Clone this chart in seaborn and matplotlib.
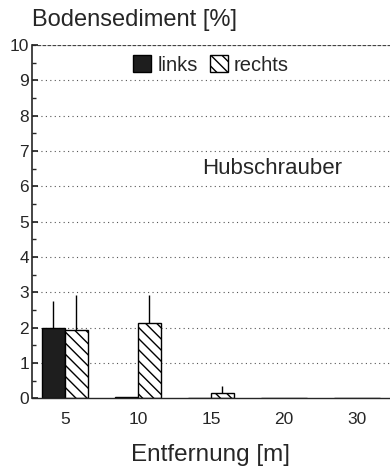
import matplotlib
matplotlib.use("Agg")
import matplotlib.pyplot as plt
import seaborn as sns
import pandas as pd
import numpy as np
from matplotlib.patches import Patch

categories = ["5", "10", "15", "20", "30"]
links = [2.0, 0.03, 0.0, 0.0, 0.0]
links_err = [0.75, 0.0, 0.0, 0.0, 0.0]
rechts = [1.93, 2.12, 0.15, 0.0, 0.0]
rechts_err = [0.99, 0.81, 0.19, 0.0, 0.0]
yticks = list(range(0, 11))

sns.set_theme(style="ticks")
plt.rcParams['font.family'] = ['Liberation Sans', 'DejaVu Sans']
plt.rcParams['hatch.linewidth'] = 1.0

df = pd.DataFrame({
    "Entfernung": categories * 2,
    "Wert": links + rechts,
    "Seite": ["links"] * 5 + ["rechts"] * 5,
})

fig = plt.figure(figsize=(3.9, 4.69), dpi=100)
ax = fig.add_axes([0.082, 0.151, 0.918, 0.753])

sns.barplot(data=df, x="Entfernung", y="Wert", hue="Seite", order=categories,
            hue_order=["links", "rechts"], palette=["#1e1e1e", "white"],
            width=0.63, errorbar=None, edgecolor="black", linewidth=1.0,
            legend=False, ax=ax)

n = len(categories)
bars = ax.patches
for i, p in enumerate(bars[:2 * n]):
    if i >= n:
        p.set_hatch("\\\\\\")
    errs = links_err if i < n else rechts_err
    vals = links if i < n else rechts
    e = errs[i % n]
    if e > 0:
        xc = p.get_x() + p.get_width() / 2
        ax.errorbar([xc], [vals[i % n]], yerr=[[0], [e]], fmt="none",
                    ecolor="black", elinewidth=1.0, capsize=0)

ax.set_ylim(0, 10)
ax.set_xlim(-0.45, 4.45)
ax.set_yticks(yticks)
ax.set_yticks(np.arange(0.5, 10, 1), minor=True)
ax.tick_params(axis="y", which="major", direction="in", length=4, labelsize=12.5, pad=2)
ax.tick_params(axis="y", which="minor", direction="in", length=3)
ax.tick_params(axis="x", length=0, labelsize=12.5, pad=10)
for y in range(1, 10):
    ax.axhline(y, color="#555555", linestyle=(0, (1, 3)), linewidth=0.8, zorder=0)
ax.axhline(10, color="#444444", linestyle=(0, (3, 1)), linewidth=0.9, zorder=0)

for s in ["right", "top"]:
    ax.spines[s].set_visible(False)
ax.spines["left"].set_linewidth(1.2)
ax.spines["bottom"].set_linewidth(1.0)

ax.set_xlabel("Entfernung [m]", fontsize=17.5, labelpad=12)
ax.set_ylabel("")
fig.text(0.082, 0.981, "Bodensediment [%]", fontsize=17, ha="left", va="top")
ax.text(2.84, 6.5, "Hubschrauber", fontsize=16, ha="center", va="center")

handles = [Patch(facecolor="#1e1e1e", edgecolor="black", label="links"),
           Patch(facecolor="white", edgecolor="black", hatch="\\\\\\", label="rechts")]
ax.legend(handles=handles, loc="upper center", bbox_to_anchor=(0.5, 1.005), ncol=2,
          frameon=False, fontsize=14.5, handlelength=0.9, handleheight=0.9,
          handletextpad=0.3, columnspacing=0.6, borderaxespad=0.2)

fig.savefig("out.png", dpi=100)
